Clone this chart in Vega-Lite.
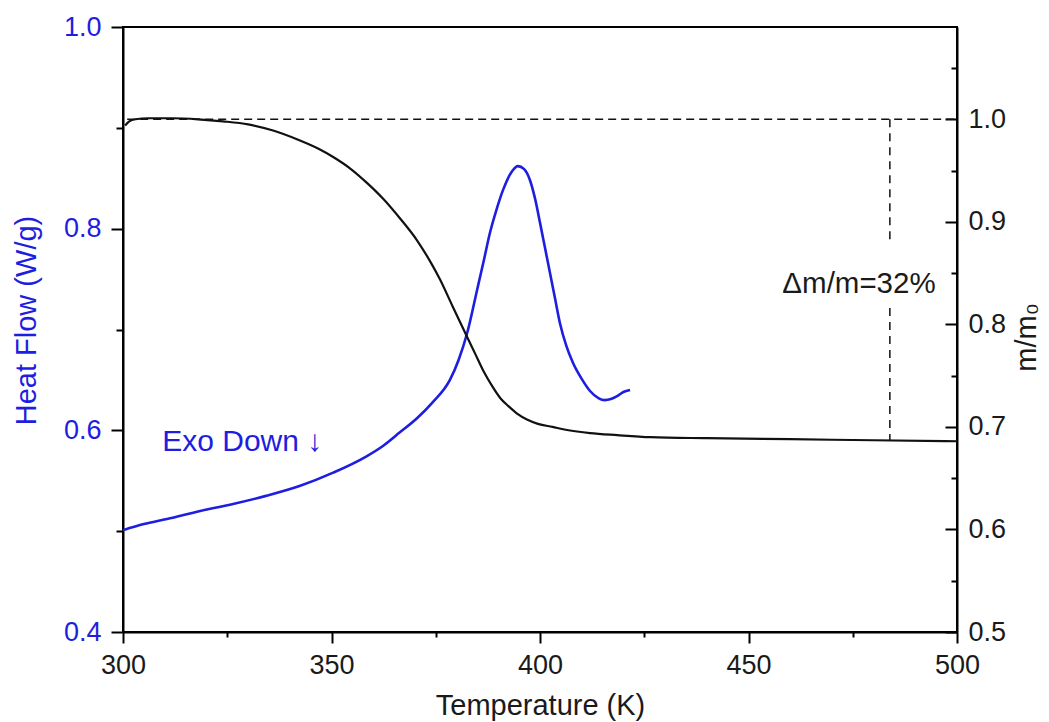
{
  "$schema": "https://vega.github.io/schema/vega-lite/v6.json",
  "width": 834,
  "height": 605,
  "autosize": "none",
  "padding": {"left": 123, "top": 27, "right": 92, "bottom": 90},
  "background": "white",
  "config": {
    "view": {"stroke": "black", "strokeWidth": 2},
    "font": "Liberation Sans",
    "axis": {
      "grid": false,
      "domainColor": "black",
      "domainWidth": 2,
      "tickColor": "black",
      "tickWidth": 2,
      "labelFont": "Liberation Sans",
      "titleFont": "Liberation Sans",
      "labelFontSize": 27,
      "titleFontSize": 29,
      "titleFontWeight": "normal",
      "labelColor": "#1a1a1a",
      "titleColor": "#1a1a1a"
    }
  },
  "datasets": {
    "heat": [
      {"T": 300, "hf": 0.501}, {"T": 305, "hf": 0.507}, {"T": 310.55, "hf": 0.512}, {"T": 318.5, "hf": 0.520},
      {"T": 326.4, "hf": 0.527}, {"T": 334.3, "hf": 0.535}, {"T": 342.5, "hf": 0.545}, {"T": 350.4, "hf": 0.558},
      {"T": 358.3, "hf": 0.574}, {"T": 362.5, "hf": 0.585}, {"T": 366.4, "hf": 0.598}, {"T": 370.5, "hf": 0.612},
      {"T": 374.3, "hf": 0.628}, {"T": 378.4, "hf": 0.650}, {"T": 380.5, "hf": 0.670}, {"T": 382.5, "hf": 0.696},
      {"T": 384.9, "hf": 0.739}, {"T": 386.5, "hf": 0.768}, {"T": 388, "hf": 0.796}, {"T": 389.5, "hf": 0.818},
      {"T": 391.1, "hf": 0.838}, {"T": 393.3, "hf": 0.857}, {"T": 394.7, "hf": 0.862}, {"T": 396.2, "hf": 0.859},
      {"T": 397.6, "hf": 0.848}, {"T": 398.8, "hf": 0.830}, {"T": 400, "hf": 0.806}, {"T": 401.2, "hf": 0.781},
      {"T": 402.4, "hf": 0.756}, {"T": 403.6, "hf": 0.731}, {"T": 404.8, "hf": 0.706}, {"T": 406.3, "hf": 0.684},
      {"T": 407.9, "hf": 0.667}, {"T": 410, "hf": 0.651}, {"T": 412, "hf": 0.639}, {"T": 414, "hf": 0.632},
      {"T": 415.5, "hf": 0.630}, {"T": 417, "hf": 0.631}, {"T": 418.5, "hf": 0.634}, {"T": 420, "hf": 0.638},
      {"T": 421.6, "hf": 0.640}
    ],
    "mass": [
      {"T": 300.5, "m": 0.994}, {"T": 301.5, "m": 0.998}, {"T": 303, "m": 1.0}, {"T": 306, "m": 1.001},
      {"T": 312, "m": 1.001}, {"T": 318, "m": 1.0}, {"T": 324, "m": 0.998}, {"T": 330, "m": 0.995},
      {"T": 336, "m": 0.989}, {"T": 342, "m": 0.980}, {"T": 347, "m": 0.971}, {"T": 350.5, "m": 0.963},
      {"T": 354.5, "m": 0.952}, {"T": 358.5, "m": 0.938}, {"T": 362.5, "m": 0.922}, {"T": 366.5, "m": 0.903},
      {"T": 370.5, "m": 0.882}, {"T": 374, "m": 0.859}, {"T": 376, "m": 0.844}, {"T": 379, "m": 0.818},
      {"T": 382.5, "m": 0.788}, {"T": 384.5, "m": 0.771}, {"T": 386.5, "m": 0.754}, {"T": 388.5, "m": 0.740},
      {"T": 390.5, "m": 0.728}, {"T": 392.5, "m": 0.720}, {"T": 394.5, "m": 0.713}, {"T": 397, "m": 0.707},
      {"T": 399.5, "m": 0.703}, {"T": 403, "m": 0.700}, {"T": 406.5, "m": 0.697}, {"T": 412, "m": 0.694},
      {"T": 418.5, "m": 0.692}, {"T": 426.5, "m": 0.690}, {"T": 440, "m": 0.689}, {"T": 460, "m": 0.688},
      {"T": 480, "m": 0.687}, {"T": 500, "m": 0.686}
    ],
    "hdash": [{"T": 301, "T2": 500, "m": 1.0}],
    "vdash": [{"T": 483.9, "m": 1.0, "m2": 0.881}, {"T": 483.9, "m": 0.816, "m2": 0.687}],
    "exo": [{"T": 309.4, "hf": 0.588, "label": "Exo Down ↓"}],
    "delta": [{"T": 476.5, "m": 0.839, "label": "Δm/m=32%"}]
  },
  "layer": [
    {
      "layer": [
        {
          "data": {"name": "heat"},
          "mark": {"type": "line", "color": "#1e1ee0", "strokeWidth": 2.6, "interpolate": "monotone"},
          "encoding": {
            "x": {
              "field": "T", "type": "quantitative",
              "scale": {"domain": [300, 500], "nice": false, "zero": false},
              "axis": {
                "orient": "bottom",
                "values": [300, 325, 350, 375, 400, 425, 450, 475, 500],
                "labelExpr": "datum.value % 50 == 0 ? datum.label : ''",
                "labelFlush": false,
                "tickSize": {"condition": {"test": "datum.value % 50 == 0", "value": 11}, "value": 5},
                "labelPadding": 9,
                "title": "Temperature (K)",
                "titlePadding": 13
              }
            },
            "y": {
              "field": "hf", "type": "quantitative",
              "scale": {"domain": [0.4, 1.0], "nice": false, "zero": false},
              "axis": {
                "orient": "left",
                "values": [0.4, 0.5, 0.6, 0.7, 0.8, 0.9, 1.0],
                "labelExpr": "round(datum.value*10) % 2 == 0 ? format(datum.value, '.1f') : ''",
                "labelFlush": false,
                "tickSize": {"condition": {"test": "round(datum.value*10) % 2 == 0", "value": 12}, "value": 7},
                "labelPadding": 10,
                "labelColor": "#1e1ee0",
                "title": "Heat Flow (W/g)",
                "titleColor": "#1e1ee0",
                "titlePadding": 22,
                "titleY": 293
              }
            }
          }
        },
        {
          "data": {"name": "exo"},
          "mark": {"type": "text", "align": "left", "baseline": "middle", "fontSize": 30, "color": "#1e1ee0", "font": "Liberation Sans"},
          "encoding": {
            "x": {"field": "T", "type": "quantitative"},
            "y": {"field": "hf", "type": "quantitative"},
            "text": {"field": "label"}
          }
        }
      ]
    },
    {
      "layer": [
        {
          "data": {"name": "mass"},
          "mark": {"type": "line", "color": "#111111", "strokeWidth": 2.2, "interpolate": "monotone"},
          "encoding": {
            "x": {"field": "T", "type": "quantitative"},
            "y": {
              "field": "m", "type": "quantitative",
              "scale": {"domain": [0.5, 1.09], "nice": false, "zero": false},
              "axis": {
                "orient": "right",
                "values": [0.5, 0.55, 0.6, 0.65, 0.7, 0.75, 0.8, 0.85, 0.9, 0.95, 1.0, 1.05],
                "labelExpr": "round(datum.value*20) % 2 == 0 ? format(datum.value, '.1f') : ''",
                "labelFlush": false,
                "tickSize": {"condition": {"test": "round(datum.value*20) % 2 == 0", "value": -12}, "value": -6},
                "labelPadding": 23,
                "title": "m/m₀",
                "titleAngle": 270,
                "titleX": 69,
                "titleY": 310,
                "titleAlign": "center",
                "titleBaseline": "middle"
              }
            }
          }
        },
        {
          "data": {"name": "hdash"},
          "mark": {"type": "rule", "color": "#111111", "strokeWidth": 1.6, "strokeDash": [8, 5]},
          "encoding": {
            "x": {"field": "T", "type": "quantitative"},
            "x2": {"field": "T2"},
            "y": {"field": "m", "type": "quantitative"}
          }
        },
        {
          "data": {"name": "vdash"},
          "mark": {"type": "rule", "color": "#111111", "strokeWidth": 1.5, "strokeDash": [8, 6]},
          "encoding": {
            "x": {"field": "T", "type": "quantitative"},
            "y": {"field": "m", "type": "quantitative"},
            "y2": {"field": "m2"}
          }
        },
        {
          "data": {"name": "delta"},
          "mark": {"type": "text", "align": "center", "baseline": "middle", "fontSize": 29.5, "color": "#1a1a1a", "font": "Liberation Sans"},
          "encoding": {
            "x": {"field": "T", "type": "quantitative"},
            "y": {"field": "m", "type": "quantitative"},
            "text": {"field": "label"}
          }
        }
      ]
    }
  ],
  "resolve": {"scale": {"y": "independent"}}
}
